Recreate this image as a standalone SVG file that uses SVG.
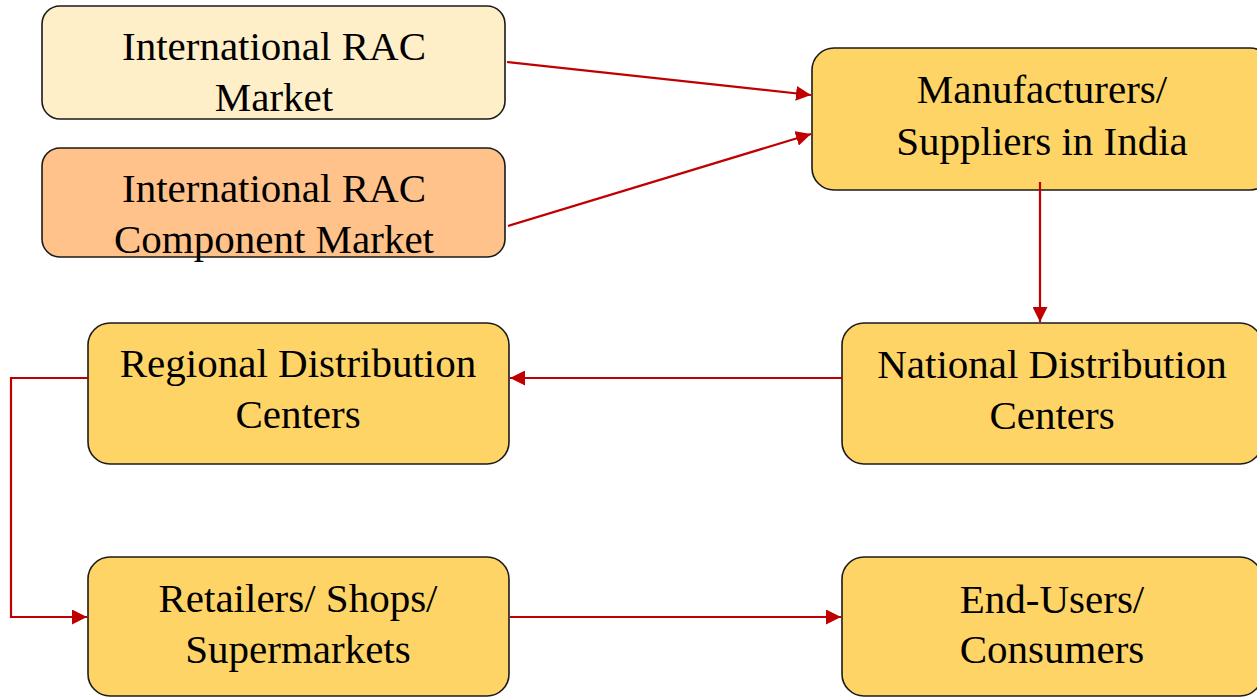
<svg xmlns="http://www.w3.org/2000/svg" width="1257" height="697" viewBox="0 0 1257 697">
  <style>
    .box { stroke: #1a1a1a; stroke-width: 1.6; }
    .main { fill: #FFD467; }
    .intl { fill: #FFEFC9; }
    .comp { fill: #FFC28A; }
    .label { font-family: "Liberation Serif", "Times New Roman", serif; font-size: 41px; fill: #000; text-anchor: middle; }
    .link { stroke: #C00000; stroke-width: 2.2; fill: none; }
  </style>
  <defs>
    <marker id="arrow" viewBox="0 0 10 10" refX="10" refY="5" markerWidth="15" markerHeight="15" markerUnits="userSpaceOnUse" orient="auto">
      <path d="M0,0 L10,5 L0,10 z" fill="#C00000"/>
    </marker>
  </defs>

  <rect width="1257" height="697" fill="#ffffff"/>

  <g id="intl-rac-market">
    <rect class="box intl" x="42" y="6" width="463" height="113" rx="18"/>
    <text class="label" x="274" y="60">International RAC</text>
    <text class="label" x="274" y="111">Market</text>
  </g>

  <g id="intl-rac-component-market">
    <rect class="box comp" x="42" y="148" width="463" height="109" rx="18"/>
    <text class="label" x="274" y="202">International RAC</text>
    <text class="label" x="274" y="253">Component Market</text>
  </g>

  <g id="manufacturers">
    <rect class="box main" x="812" y="48" width="460" height="142" rx="22"/>
    <text class="label" x="1042" y="103">Manufacturers/</text>
    <text class="label" x="1042" y="155">Suppliers in India</text>
  </g>

  <g id="national-dc">
    <rect class="box main" x="842" y="323" width="420" height="141" rx="22"/>
    <text class="label" x="1052" y="378">National Distribution</text>
    <text class="label" x="1052" y="429">Centers</text>
  </g>

  <g id="regional-dc">
    <rect class="box main" x="88" y="323" width="421" height="141" rx="22"/>
    <text class="label" x="298" y="377">Regional Distribution</text>
    <text class="label" x="298" y="428">Centers</text>
  </g>

  <g id="retailers">
    <rect class="box main" x="88" y="557" width="421" height="139" rx="22"/>
    <text class="label" x="298" y="612">Retailers/ Shops/</text>
    <text class="label" x="298" y="663">Supermarkets</text>
  </g>

  <g id="end-users">
    <rect class="box main" x="842" y="557" width="420" height="139" rx="22"/>
    <text class="label" x="1052" y="613">End-Users/</text>
    <text class="label" x="1052" y="663">Consumers</text>
  </g>

  <g id="connectors">
    <line class="link" x1="507" y1="62" x2="811" y2="95" marker-end="url(#arrow)"/>
    <line class="link" x1="508" y1="226" x2="811" y2="134" marker-end="url(#arrow)"/>
    <line class="link" x1="1040" y1="182" x2="1040" y2="322" marker-end="url(#arrow)"/>
    <line class="link" x1="842" y1="378" x2="510" y2="378" marker-end="url(#arrow)"/>
    <polyline class="link" points="88,378 11,378 11,617 87,617" marker-end="url(#arrow)"/>
    <line class="link" x1="510" y1="617" x2="841" y2="617" marker-end="url(#arrow)"/>
  </g>
</svg>
